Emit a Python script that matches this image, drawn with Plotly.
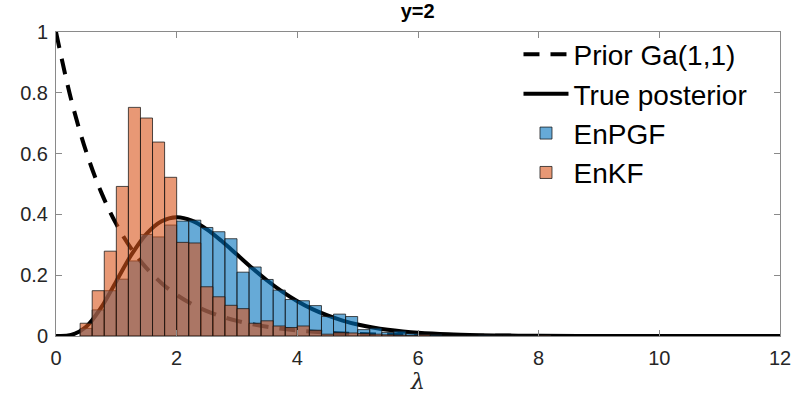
import plotly.graph_objects as go

# ---- data ----
bin_left = [0.4, 0.6, 0.8, 1.0, 1.2, 1.4, 1.6, 1.8, 2.0, 2.2, 2.4, 2.6, 2.8, 3.0,
            3.2, 3.4, 3.6, 3.8, 4.0, 4.2, 4.4, 4.6, 4.8, 5.0, 5.2, 5.4, 5.6, 5.8,
            6.0, 6.2, 6.4, 6.6, 6.8, 7.0, 7.2, 7.4, 7.6, 7.8, 8.0]
enpgf = [0.025, 0.086, 0.149, 0.187, 0.247, 0.334, 0.326, 0.365, 0.378, 0.381,
         0.357, 0.343, 0.320, 0.210, 0.227, 0.186, 0.151, 0.120, 0.116, 0.100,
         0.064, 0.072, 0.064, 0.021, 0.026, 0.012, 0.016, 0.008,
         0.005, 0.004, 0.0, 0.0, 0.0, 0.003, 0.0, 0.0, 0.0, 0.0, 0.0]
enkf = [0.042, 0.149, 0.279, 0.492, 0.752, 0.717, 0.638, 0.522, 0.308, 0.306,
        0.162, 0.129, 0.101, 0.090, 0.042, 0.050, 0.033, 0.028, 0.033, 0.019,
        0.006, 0.011, 0.010, 0.008, 0.006, 0.004, 0.003, 0.002,
        0.004, 0.0, 0.0, 0.0, 0.0, 0.0, 0.0, 0.0, 0.0, 0.0, 0.002]

lam_prior = [0, 0.25, 0.5, 0.75, 1.0, 1.25, 1.5, 1.75, 2.0, 2.25, 2.5, 2.75, 3.0,
             3.5, 4.0, 4.5, 5.0, 6.0, 7.0, 8.0, 9.0, 10.0, 12.0]
prior = [1.0, 0.7788, 0.6065, 0.4724, 0.3679, 0.2865, 0.2231, 0.1738, 0.1353,
         0.1054, 0.0821, 0.0639, 0.0498, 0.0302, 0.0183, 0.0111, 0.0067, 0.0025,
         0.0009, 0.0003, 0.0001, 0.00005, 0.0]

lam_post = [0, 0.25, 0.5, 0.75, 1.0, 1.25, 1.5, 1.75, 2.0, 2.25, 2.5, 2.75, 3.0,
            3.25, 3.5, 3.75, 4.0, 4.25, 4.5, 4.75, 5.0, 5.25, 5.5, 5.75, 6.0,
            6.5, 7.0, 7.5, 8.0, 9.0, 10.0, 11.0, 12.0]
post = [0.0, 0.0032, 0.0307, 0.0941, 0.1804, 0.2672, 0.3361, 0.3776, 0.3907,
        0.3796, 0.3509, 0.3116, 0.2677, 0.2236, 0.1825, 0.1458, 0.1145, 0.0885,
        0.0675, 0.0508, 0.0378, 0.0279, 0.0204, 0.0148, 0.0106, 0.0054, 0.0027,
        0.0013, 0.0006, 0.0001, 0.0, 0.0, 0.0]

x_ticks = [0, 2, 4, 6, 8, 10, 12]
y_ticks = [0, 0.2, 0.4, 0.6, 0.8, 1]
y_ticklabels = ["0", "0.2", "0.4", "0.6", "0.8", "1"]

FONT = "Liberation Sans, Arial, sans-serif"
AX = "#8a8a8a"
TXT = "#262626"

fig = go.Figure()
fig.add_trace(go.Scatter(x=lam_prior, y=prior, mode="lines", name="Prior Ga(1,1)",
                         line=dict(color="black", width=4, dash="16px,11px", shape="spline"),
                         xaxis="x", yaxis="y"))
fig.add_trace(go.Scatter(x=lam_post, y=post, mode="lines", name="True posterior",
                         line=dict(color="black", width=4, shape="spline"),
                         xaxis="x", yaxis="y"))
fig.add_trace(go.Bar(x=bin_left, y=enpgf, width=0.2, offset=0, name="EnPGF",
                     marker=dict(color="rgba(0,114,189,0.6)",
                                 line=dict(color="rgba(20,20,20,0.75)", width=1)),
                     xaxis="x2", yaxis="y2"))
fig.add_trace(go.Bar(x=bin_left, y=enkf, width=0.2, offset=0, name="EnKF",
                     marker=dict(color="rgba(217,83,25,0.6)",
                                 line=dict(color="rgba(20,20,20,0.75)", width=1)),
                     xaxis="x2", yaxis="y2"))

axis_common = dict(showgrid=False, zeroline=False, ticks="inside", ticklen=6,
                   tickcolor=AX, showline=True, linecolor=AX, linewidth=1,
                   mirror="ticks", automargin=False,
                   tickfont=dict(family=FONT, size=20, color=TXT))
fig.update_layout(
    width=801, height=394,
    margin=dict(l=56, r=21, t=32, b=58),
    paper_bgcolor="white", plot_bgcolor="white",
    barmode="overlay",
    title=dict(text="<b>y=2</b>", x=0.5215, xanchor="center", y=0.972, yanchor="middle",
               font=dict(family=FONT, size=20, color="black"), automargin=False),
    xaxis=dict(range=[0, 12], tickvals=x_ticks, ticklabelstandoff=4,
               title=dict(text="<i>λ</i>", font=dict(family="DejaVu Serif, serif", size=22, color=TXT),
                          standoff=2),
               **axis_common),
    yaxis=dict(range=[0, 1], tickvals=y_ticks, ticktext=y_ticklabels,
               ticklabelstandoff=3, **axis_common),
    xaxis2=dict(range=[0, 12], overlaying="x", visible=False),
    yaxis2=dict(range=[0, 1], overlaying="y", visible=False),
    legend=dict(x=0.962, xanchor="right", y=1.008, yanchor="top",
                bgcolor="rgba(255,255,255,0)", itemwidth=45,
                font=dict(family=FONT, size=28, color="black"),
                tracegroupgap=0),
    showlegend=True,
)

fig.write_html("out.html")
